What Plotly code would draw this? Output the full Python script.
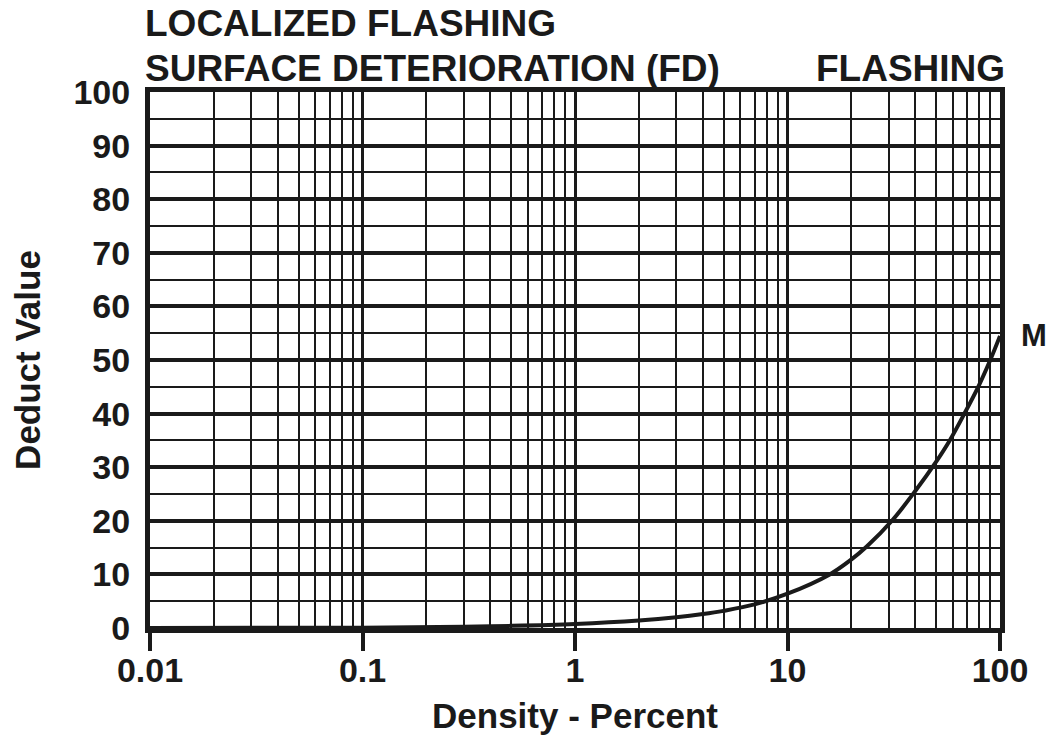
import plotly.graph_objects as go

# Curve data (Density %, Deduct Value)
density = [0.01, 0.1, 0.3, 0.5, 1, 2, 3, 4, 5, 7, 10, 15.8, 20, 23.6, 31, 40, 50, 58, 68, 79, 90, 100]
deduct = [0, 0.05, 0.25, 0.4, 0.75, 1.4, 2.0, 2.6, 3.2, 4.4, 6.4, 10, 12.8, 15.2, 20, 25.6, 31, 35, 40, 45, 50, 54.5]

x_major = [0.01, 0.1, 1, 10, 100]
x_major_labels = ["0.01", "0.1", "1", "10", "100"]
x_minor = [m * d for d in [0.01, 0.1, 1, 10] for m in range(2, 10)]
y_major = list(range(0, 101, 10))

title_line1 = "LOCALIZED FLASHING"
title_line2 = "SURFACE DETERIORATION (FD)"
title_right = "FLASHING"
curve_label = "M"

INK = "#1a1a1a"
FONT = "Liberation Sans, Arial, sans-serif"

fig = go.Figure()
fig.add_trace(go.Scatter(
    x=density, y=deduct, mode="lines",
    line=dict(color=INK, width=4, shape="spline", smoothing=1.0),
    showlegend=False, hoverinfo="skip",
))

fig.update_layout(
    width=1055, height=746,
    margin=dict(l=150, r=55, t=92, b=118),
    paper_bgcolor="white", plot_bgcolor="white",
    font=dict(family=FONT, color=INK),
    showlegend=False,
)

fig.update_xaxes(
    type="log", range=[-2, 2], automargin=False,
    tickmode="array", tickvals=x_major, ticktext=x_major_labels,
    ticks="outside", ticklen=18, tickwidth=4, tickcolor=INK,
    ticklabelstandoff=-10,
    tickfont=dict(size=34, weight="bold", family=FONT, color=INK),
    showgrid=True, gridcolor=INK, gridwidth=3,
    minor=dict(tickmode="array", tickvals=x_minor, showgrid=True,
               gridcolor=INK, gridwidth=2, ticks=""),
    showline=True, linecolor=INK, linewidth=5, mirror=True,
    zeroline=False,
    title=dict(text="Density - Percent", standoff=17,
               font=dict(size=35, weight="bold", family=FONT, color=INK)),
)
fig.update_yaxes(
    range=[0, 100], automargin=False,
    tickmode="array", tickvals=y_major,
    ticks="", ticklabelstandoff=8,
    tickfont=dict(size=34, weight="bold", family=FONT, color=INK),
    showgrid=True, gridcolor=INK, gridwidth=4,
    minor=dict(dtick=5, showgrid=True, gridcolor=INK, gridwidth=2, ticks=""),
    showline=True, linecolor=INK, linewidth=5, mirror=True,
    zeroline=False,
    title=dict(text="Deduct Value", standoff=24,
               font=dict(size=35, weight="bold", family=FONT, color=INK)),
)

ann_font = dict(size=37, weight="bold", family=FONT, color=INK)
fig.add_annotation(text=title_line1, xref="paper", yref="paper", x=-0.008, y=1.127,
                   xanchor="left", yanchor="middle", showarrow=False, font=ann_font)
fig.add_annotation(text=title_line2, xref="paper", yref="paper", x=-0.008, y=1.043,
                   xanchor="left", yanchor="middle", showarrow=False, font=ann_font)
fig.add_annotation(text=title_right, xref="paper", yref="paper", x=1.008, y=1.043,
                   xanchor="right", yanchor="middle", showarrow=False, font=ann_font)
fig.add_annotation(text=curve_label, xref="paper", yref="y", x=1.0, y=deduct[-1],
                   xanchor="left", yanchor="middle", xshift=19, showarrow=False,
                   font=dict(size=31, weight="bold", family=FONT, color=INK))

# remove the browser's default page margin so the figure sits at the window origin
fig.write_html("out.html", config={"displayModeBar": False},
               post_script="document.body.style.margin='0';")
